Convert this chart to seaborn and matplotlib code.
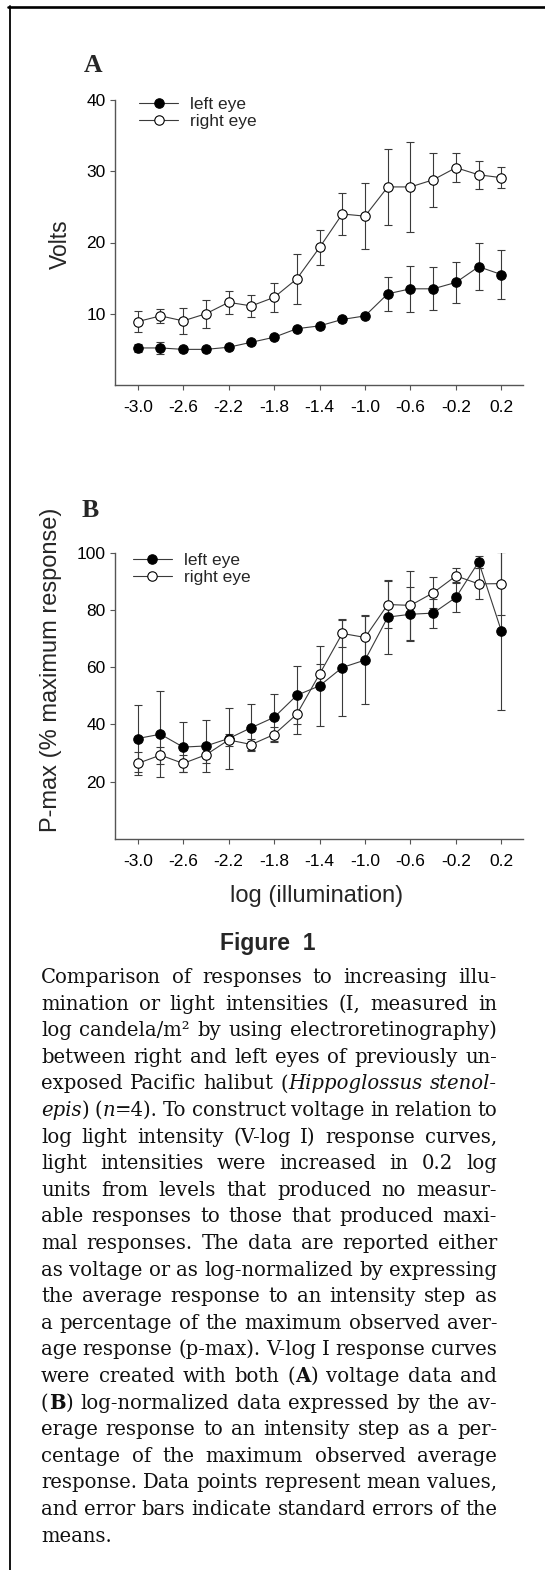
import re
import matplotlib
matplotlib.use("Agg")
import matplotlib.pyplot as plt
from matplotlib.lines import Line2D
import seaborn as sns

# log illumination steps (log candela/m2)
log_illum = [-3.0, -2.8, -2.6, -2.4, -2.2, -2.0, -1.8, -1.6, -1.4, -1.2,
             -1.0, -0.8, -0.6, -0.4, -0.2, 0.0, 0.2]

# panel A: response in volts (mean, SE)
volts_left = [5.2, 5.2, 5.0, 5.0, 5.3, 6.0, 6.7, 7.9, 8.3, 9.2,
              9.7, 12.8, 13.5, 13.5, 14.4, 16.6, 15.5]
volts_left_se = [0.6, 0.9, 0.3, 0.3, 0.3, 0.3, 0.3, 0.3, 0.3, 0.3,
                 0.3, 2.4, 3.2, 3.0, 2.9, 3.3, 3.45]
volts_right = [8.9, 9.7, 9.0, 10.0, 11.6, 11.1, 12.3, 14.9, 19.3, 24.0,
               23.7, 27.8, 27.8, 28.8, 30.5, 29.5, 29.1]
volts_right_se = [1.5, 1.0, 1.85, 2.0, 1.6, 1.55, 2.0, 3.5, 2.4, 2.9,
                  4.6, 5.35, 6.3, 3.8, 2.0, 2.0, 1.45]

# panel B: p-max, % of maximum response (mean, SE)
pmax_left = [35.1, 36.6, 32.1, 32.5, 35.1, 38.9, 42.5, 50.2, 53.5, 59.9,
             62.5, 77.5, 78.5, 78.9, 84.4, 96.8, 72.6]
pmax_left_se = [11.7, 15.0, 8.6, 9.2, 10.5, 8.1, 8.3, 10.2, 14.0, 17.0,
                15.5, 12.9, 9.4, 5.1, 5.2, 2.0, 27.6]
pmax_right = [26.4, 29.3, 26.4, 29.4, 34.6, 33.0, 36.5, 43.6, 57.6, 71.8,
              70.4, 81.9, 81.6, 86.0, 91.9, 89.1, 89.2]
pmax_right_se = [4.0, 3.0, 3.0, 3.0, 2.0, 2.0, 2.5, 7.0, 3.5, 4.6,
                 8.0, 8.3, 12.0, 5.4, 2.6, 5.4, 11.0]

xticks = [-3.0, -2.6, -2.2, -1.8, -1.4, -1.0, -0.6, -0.2, 0.2]
xtick_labels = ["-3.0", "-2.6", "-2.2", "-1.8", "-1.4", "-1.0", "-0.6", "-0.2", "0.2"]
yticks_a = [10, 20, 30, 40]
yticks_b = [20, 40, 60, 80, 100]

# caption, one entry per printed line; _x_ = italic, *x* = bold
caption_lines = [
    "Comparison of responses to increasing illu-",
    "mination or light intensities (I, measured in",
    "log candela/m\u00b2 by using electroretinography)",
    "between right and left eyes of previously un-",
    "exposed Pacific halibut (_Hippoglossus_ _stenol-_",
    "_epis_) (_n_=4). To construct voltage in relation to",
    "log light intensity (V-log I) response curves,",
    "light intensities were increased in 0.2 log",
    "units from levels that produced no measur-",
    "able responses to those that produced maxi-",
    "mal responses. The data are reported either",
    "as voltage or as log-normalized by expressing",
    "the average response to an intensity step as",
    "a percentage of the maximum observed aver-",
    "age response (p-max). V-log I response curves",
    "were created with both (*A*) voltage data  and",
    "(*B*) log-normalized data expressed by the av-",
    "erage response to an intensity step as a per-",
    "centage of the maximum observed average",
    "response. Data points represent mean values,",
    "and error bars indicate standard errors of the",
    "means.",
]

W, H = 545, 1570
sns.set_style("ticks")
plt.rcParams["font.family"] = ["Liberation Sans", "DejaVu Sans"]

fig = plt.figure(figsize=(W / 100, H / 100), dpi=100)


def px_axes(left, top, right, bottom):
    return fig.add_axes([left / W, 1 - bottom / H, (right - left) / W, (bottom - top) / H])


line_col = "#3a3a3a"


def draw_panel(ax, left, left_se, right, right_se):
    ax.errorbar(log_illum, left, yerr=left_se, fmt="none", ecolor=line_col,
                elinewidth=0.8, capsize=3, capthick=0.8, zorder=1)
    ax.errorbar(log_illum, right, yerr=right_se, fmt="none", ecolor=line_col,
                elinewidth=0.8, capsize=3, capthick=0.8, zorder=1)
    sns.lineplot(x=log_illum, y=left, ax=ax, color=line_col, lw=0.8,
                 marker="o", markersize=6.8, markerfacecolor="black",
                 markeredgecolor="black", markeredgewidth=0.8,
                 errorbar=None, label="left eye", zorder=3)
    sns.lineplot(x=log_illum, y=right, ax=ax, color=line_col, lw=0.8,
                 marker="o", markersize=6.8, markerfacecolor="white",
                 markeredgecolor="black", markeredgewidth=0.8,
                 errorbar=None, label="right eye", zorder=3)
    ax.set_xlim(-3.2, 0.39)
    ax.set_xticks(xticks)
    ax.set_xticklabels(xtick_labels)
    sns.despine(ax=ax)
    for s in ("left", "bottom"):
        ax.spines[s].set_color("#555555")
        ax.spines[s].set_linewidth(1.0)
    ax.tick_params(axis="both", direction="out", length=3.6, width=0.8,
                   color="#555555", labelsize=12.5, labelcolor="black")
    ax.tick_params(axis="x", pad=7)
    ax.tick_params(axis="y", pad=3)
    ax.set_facecolor("none")


# panel A
ax_a = px_axes(115, 100, 523, 385)
draw_panel(ax_a, volts_left, volts_left_se, volts_right, volts_right_se)
ax_a.set_ylim(0, 40)
ax_a.set_yticks(yticks_a)
ax_a.set_ylabel("Volts", fontsize=16.5)
ax_a.yaxis.set_label_coords(-0.105, 0.493)
ax_a.legend(loc="upper left", bbox_to_anchor=(0.059, 1.01), frameon=False,
            fontsize=12.5, handlelength=2.25, handletextpad=0.7,
            labelspacing=0.1, borderpad=0, borderaxespad=0)

# panel B
ax_b = px_axes(115, 552.7, 523, 839)
draw_panel(ax_b, pmax_left, pmax_left_se, pmax_right, pmax_right_se)
ax_b.set_ylim(0, 100)
ax_b.set_yticks(yticks_b)
ax_b.set_ylabel("P-max (% maximum response)", fontsize=17)
ax_b.yaxis.set_label_coords(-0.130, 0.59)
ax_b.set_xlabel("log (illumination)", fontsize=17)
ax_b.xaxis.set_label_coords(0.494, -0.161)
ax_b.legend(loc="upper left", bbox_to_anchor=(0.044, 0.998), frameon=False,
            fontsize=12.5, handlelength=2.25, handletextpad=0.7,
            labelspacing=0.1, borderpad=0, borderaxespad=0)

# panel letters
fig.text(84 / W, 1 - 72 / H, "A", family="Liberation Serif", weight="bold",
         fontsize=18.5, ha="left", va="baseline")
fig.text(82 / W, 1 - 517 / H, "B", family="Liberation Serif", weight="bold",
         fontsize=18.5, ha="left", va="baseline")

fig.text(268 / W, 1 - 950 / H, "Figure  1", weight="bold", fontsize=16.5,
         ha="center", va="baseline")

# frame lines (top and left only)
fig.add_artist(Line2D([8 / W, 1], [1 - 7 / H, 1 - 7 / H], transform=fig.transFigure,
                      color="black", lw=1.9))
fig.add_artist(Line2D([9.5 / W, 9.5 / W], [0, 1 - 6 / H], transform=fig.transFigure,
                      color="black", lw=1.3))

# justified caption
renderer = fig.canvas.get_renderer()
cap_font = "DejaVu Serif"
cap_size = 14.1
x0, x1 = 41, 497
base0, step = 983, 26.6


def segments(word):
    out = []
    for part in re.split(r"(_[^_]+_|\*[^*]+\*)", word):
        if not part:
            continue
        if part.startswith("_"):
            out.append((part[1:-1], {"style": "italic"}))
        elif part.startswith("*"):
            out.append((part[1:-1], {"weight": "bold"}))
        else:
            out.append((part, {}))
    return out


def measure(s, size, kw):
    t = fig.text(0, 0, s, fontsize=size, family=cap_font, **kw)
    w = t.get_window_extent(renderer).width
    t.remove()
    return w


def advance(s, size, kw):
    # advance width rather than ink width, so styled pieces butt up properly
    return measure("x" + s + "x", size, kw) - measure("xx", size, kw)


def word_pieces(wd, size):
    sg = segments(wd)
    if len(sg) == 1:
        s, kw = sg[0]
        return [(s, kw, measure(s, size, kw))]
    return [(s, kw, advance(s, size, kw)) for s, kw in sg]


# shrink font if a line would not fit with a minimal word gap
worst = 0
for line in caption_lines:
    words = line.split()
    tot = sum(w for wd in words for _, _, w in word_pieces(wd, cap_size))
    worst = max(worst, tot + (len(words) - 1) * 0.16 * cap_size * 100 / 72)
if worst > x1 - x0:
    cap_size *= (x1 - x0) / worst

for i, line in enumerate(caption_lines):
    words = line.split()
    segs = [word_pieces(wd, cap_size) for wd in words]
    widths = [sum(w for _, _, w in sg) for sg in segs]
    last = i == len(caption_lines) - 1
    if last or len(words) == 1:
        gap = measure("a b", cap_size, {}) - measure("ab", cap_size, {})
    else:
        gap = (x1 - x0 - sum(widths)) / (len(words) - 1)
    x = x0
    y = 1 - (base0 + i * step) / H
    for sg, wd in zip(segs, widths):
        xx = x
        for s, kw, w in sg:
            fig.text(xx / W, y, s, fontsize=cap_size, family=cap_font,
                     ha="left", va="baseline", color="#111111", **kw)
            xx += w
        x += wd + gap

fig.savefig("out.png", dpi=100, facecolor="white")
